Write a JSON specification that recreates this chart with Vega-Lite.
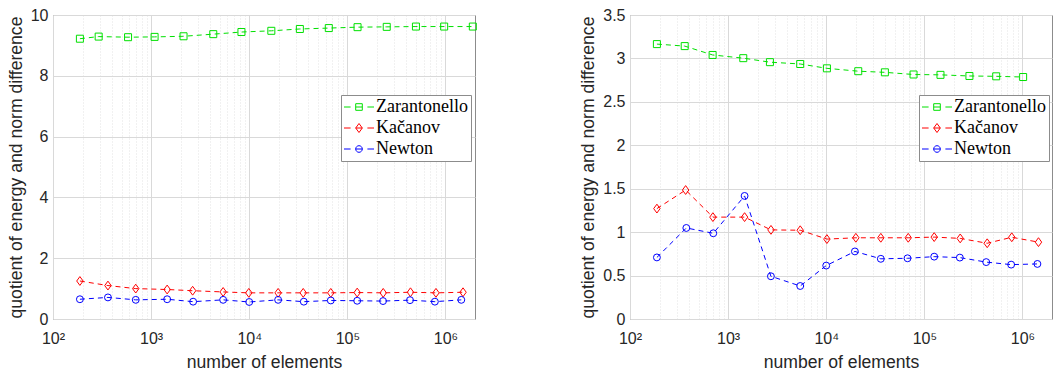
{
  "$schema": "https://vega.github.io/schema/vega-lite/v6.json",
  "background": "white",
  "padding": {"left": 6, "top": 6, "right": 5, "bottom": 2},
  "spacing": 100,
  "config": {
    "view": {"stroke": "#8c8c8c", "strokeWidth": 1},
    "axis": {
      "labelFont": "Liberation Sans", "labelFontSize": 16, "labelColor": "#262626",
      "titleFont": "Liberation Sans", "titleFontSize": 17.6, "titleFontWeight": "normal", "titleColor": "#262626",
      "domain": false, "ticks": false, "gridColor": "#d9d9d9", "gridWidth": 1
    },
    "legend": {
      "labelFont": "Liberation Serif", "labelFontSize": 18, "labelColor": "#000000",
      "padding": 3, "rowPadding": 3, "strokeColor": "#8c8c8c", "fillColor": "white",
      "symbolSize": 36, "symbolStrokeWidth": 1, "symbolOffset": 6, "labelOffset": 8
    }
  },
  "resolve": {
    "scale": {"color": "independent", "stroke": "independent", "shape": "independent", "size": "independent"},
    "legend": {"color": "independent", "stroke": "independent", "shape": "independent", "size": "independent"}
  },
  "data": {"values": [
    {"panel": "L", "method": "Zarantonello", "n": 188, "q": 9.22},
    {"panel": "L", "method": "Zarantonello", "n": 292, "q": 9.29},
    {"panel": "L", "method": "Zarantonello", "n": 582, "q": 9.27},
    {"panel": "L", "method": "Zarantonello", "n": 1085, "q": 9.28},
    {"panel": "L", "method": "Zarantonello", "n": 2140, "q": 9.30},
    {"panel": "L", "method": "Zarantonello", "n": 4300, "q": 9.37},
    {"panel": "L", "method": "Zarantonello", "n": 8330, "q": 9.44},
    {"panel": "L", "method": "Zarantonello", "n": 16800, "q": 9.48},
    {"panel": "L", "method": "Zarantonello", "n": 32800, "q": 9.54},
    {"panel": "L", "method": "Zarantonello", "n": 64700, "q": 9.57},
    {"panel": "L", "method": "Zarantonello", "n": 127000, "q": 9.60},
    {"panel": "L", "method": "Zarantonello", "n": 252000, "q": 9.61},
    {"panel": "L", "method": "Zarantonello", "n": 500000, "q": 9.62},
    {"panel": "L", "method": "Zarantonello", "n": 970000, "q": 9.62},
    {"panel": "L", "method": "Zarantonello", "n": 1900000, "q": 9.62},
    {"panel": "L", "method": "Kačanov", "n": 188, "q": 1.25},
    {"panel": "L", "method": "Kačanov", "n": 363, "q": 1.10},
    {"panel": "L", "method": "Kačanov", "n": 697, "q": 1.00},
    {"panel": "L", "method": "Kačanov", "n": 1457, "q": 0.97},
    {"panel": "L", "method": "Kačanov", "n": 2650, "q": 0.93},
    {"panel": "L", "method": "Kačanov", "n": 5420, "q": 0.89},
    {"panel": "L", "method": "Kačanov", "n": 9900, "q": 0.86},
    {"panel": "L", "method": "Kačanov", "n": 19700, "q": 0.86},
    {"panel": "L", "method": "Kačanov", "n": 35500, "q": 0.86},
    {"panel": "L", "method": "Kačanov", "n": 67800, "q": 0.86},
    {"panel": "L", "method": "Kačanov", "n": 126000, "q": 0.87},
    {"panel": "L", "method": "Kačanov", "n": 232000, "q": 0.86},
    {"panel": "L", "method": "Kačanov", "n": 440000, "q": 0.88},
    {"panel": "L", "method": "Kačanov", "n": 800000, "q": 0.86},
    {"panel": "L", "method": "Kačanov", "n": 1510000, "q": 0.88},
    {"panel": "L", "method": "Newton", "n": 188, "q": 0.65},
    {"panel": "L", "method": "Newton", "n": 363, "q": 0.71},
    {"panel": "L", "method": "Newton", "n": 697, "q": 0.63},
    {"panel": "L", "method": "Newton", "n": 1457, "q": 0.65},
    {"panel": "L", "method": "Newton", "n": 2680, "q": 0.57},
    {"panel": "L", "method": "Newton", "n": 5420, "q": 0.63},
    {"panel": "L", "method": "Newton", "n": 10000, "q": 0.56},
    {"panel": "L", "method": "Newton", "n": 19700, "q": 0.63},
    {"panel": "L", "method": "Newton", "n": 36000, "q": 0.57},
    {"panel": "L", "method": "Newton", "n": 67800, "q": 0.61},
    {"panel": "L", "method": "Newton", "n": 126000, "q": 0.60},
    {"panel": "L", "method": "Newton", "n": 231000, "q": 0.59},
    {"panel": "L", "method": "Newton", "n": 435000, "q": 0.62},
    {"panel": "L", "method": "Newton", "n": 780000, "q": 0.57},
    {"panel": "L", "method": "Newton", "n": 1450000, "q": 0.63},
    {"panel": "R", "method": "Zarantonello", "n": 188, "q": 3.165},
    {"panel": "R", "method": "Zarantonello", "n": 361, "q": 3.142},
    {"panel": "R", "method": "Zarantonello", "n": 695, "q": 3.040},
    {"panel": "R", "method": "Zarantonello", "n": 1427, "q": 3.003},
    {"panel": "R", "method": "Zarantonello", "n": 2667, "q": 2.957},
    {"panel": "R", "method": "Zarantonello", "n": 5430, "q": 2.936},
    {"panel": "R", "method": "Zarantonello", "n": 10160, "q": 2.886},
    {"panel": "R", "method": "Zarantonello", "n": 21200, "q": 2.853},
    {"panel": "R", "method": "Zarantonello", "n": 39600, "q": 2.840},
    {"panel": "R", "method": "Zarantonello", "n": 77600, "q": 2.815},
    {"panel": "R", "method": "Zarantonello", "n": 146000, "q": 2.811},
    {"panel": "R", "method": "Zarantonello", "n": 288000, "q": 2.798},
    {"panel": "R", "method": "Zarantonello", "n": 540000, "q": 2.794},
    {"panel": "R", "method": "Zarantonello", "n": 1016000, "q": 2.786},
    {"panel": "R", "method": "Kačanov", "n": 188, "q": 1.271},
    {"panel": "R", "method": "Kačanov", "n": 369, "q": 1.485},
    {"panel": "R", "method": "Kačanov", "n": 700, "q": 1.173},
    {"panel": "R", "method": "Kačanov", "n": 1472, "q": 1.173},
    {"panel": "R", "method": "Kačanov", "n": 2734, "q": 1.026},
    {"panel": "R", "method": "Kačanov", "n": 5430, "q": 1.022},
    {"panel": "R", "method": "Kačanov", "n": 10160, "q": 0.920},
    {"panel": "R", "method": "Kačanov", "n": 20040, "q": 0.935},
    {"panel": "R", "method": "Kačanov", "n": 36000, "q": 0.935},
    {"panel": "R", "method": "Kačanov", "n": 68500, "q": 0.935},
    {"panel": "R", "method": "Kačanov", "n": 126000, "q": 0.943},
    {"panel": "R", "method": "Kačanov", "n": 232000, "q": 0.928},
    {"panel": "R", "method": "Kačanov", "n": 437000, "q": 0.872},
    {"panel": "R", "method": "Kačanov", "n": 778000, "q": 0.941},
    {"panel": "R", "method": "Kačanov", "n": 1456000, "q": 0.885},
    {"panel": "R", "method": "Newton", "n": 188, "q": 0.709},
    {"panel": "R", "method": "Newton", "n": 375, "q": 1.048},
    {"panel": "R", "method": "Newton", "n": 706, "q": 0.987},
    {"panel": "R", "method": "Newton", "n": 1472, "q": 1.417},
    {"panel": "R", "method": "Newton", "n": 2730, "q": 0.492},
    {"panel": "R", "method": "Newton", "n": 5430, "q": 0.380},
    {"panel": "R", "method": "Newton", "n": 10000, "q": 0.615},
    {"panel": "R", "method": "Newton", "n": 19600, "q": 0.778},
    {"panel": "R", "method": "Newton", "n": 36000, "q": 0.693},
    {"panel": "R", "method": "Newton", "n": 67400, "q": 0.699},
    {"panel": "R", "method": "Newton", "n": 126000, "q": 0.718},
    {"panel": "R", "method": "Newton", "n": 230000, "q": 0.707},
    {"panel": "R", "method": "Newton", "n": 427000, "q": 0.655},
    {"panel": "R", "method": "Newton", "n": 767000, "q": 0.626},
    {"panel": "R", "method": "Newton", "n": 1420000, "q": 0.634}
  ]},
  "hconcat": [
    {
      "width": 422, "height": 304,
      "transform": [{"filter": "datum.panel === 'L'"}],
      "encoding": {
        "x": {"field": "n", "type": "quantitative", "title": "number of elements",
          "scale": {"type": "log", "domain": [100, 2000000], "nice": false},
          "axis": {
            "values": [100,200,300,400,500,600,700,800,900,1000,2000,3000,4000,5000,6000,7000,8000,9000,10000,20000,30000,40000,50000,60000,70000,80000,90000,100000,200000,300000,400000,500000,600000,700000,800000,900000,1000000],
            "labelExpr": "datum.value == 100 ? '10²' : datum.value == 1000 ? '10³' : datum.value == 10000 ? '10⁴' : datum.value == 100000 ? '10⁵' : datum.value == 1000000 ? '10⁶' : ''",
            "labelFlush": false, "labelOverlap": false, "labelPadding": 11, "titlePadding": 7,
            "gridDash": {"condition": {"test": "indexof([100,1000,10000,100000,1000000], datum.value) >= 0", "value": []}, "value": [1, 2]},
            "gridColor": {"condition": {"test": "indexof([100,1000,10000,100000,1000000], datum.value) >= 0", "value": "#d9d9d9"}, "value": "#e3e3e3"}
          }
        },
        "y": {"field": "q", "type": "quantitative", "title": "quotient of energy and norm difference",
          "scale": {"domain": [0, 10], "nice": false},
          "axis": {"values": [0, 2, 4, 6, 8, 10], "format": ".2~r", "labelPadding": 5, "titlePadding": 5}
        }
      },
      "layer": [
        {
          "mark": {"type": "line", "strokeDash": [5, 4], "strokeWidth": 1},
          "encoding": {
            "stroke": {"field": "method", "type": "nominal", "legend": null,
              "scale": {"range": ["#ff0000", "#0000ff", "#00e000"]}}
          }
        },
        {
          "mark": {"type": "point", "filled": false, "strokeWidth": 1, "opacity": 1},
          "encoding": {
            "color": {"field": "method", "type": "nominal",
              "scale": {"domain": ["Zarantonello", "Kačanov", "Newton"], "range": ["#00e000", "#ff0000", "#0000ff"]},
              "legend": {"title": null, "orient": "none", "legendX": 288, "legendY": 80,
                "symbolType": {"expr": "datum.value === 'Zarantonello' ? 'M-5,0L-2.8,0M2.8,0L5,0M-1.1,-1.1L1.1,-1.1L1.1,1.1L-1.1,1.1ZM-1.1,0L1.1,0' : datum.value === 'Newton' ? 'M-5,0L-2.8,0M2.8,0L5,0M-1.1,0A1.1,1.1,0,1,1,1.1,0A1.1,1.1,0,1,1,-1.1,0ZM-1.1,0L1.1,0' : 'M-5,0L-2.8,0M2.8,0L5,0M0,-1.5L1.1,0L0,1.5L-1.1,0ZM-1.1,0L1.1,0'"}
              }
            },
            "shape": {"field": "method", "type": "nominal", "legend": null,
              "scale": {"range": ["M0,-1.3L0.95,0L0,1.3L-0.95,0Z", "circle", "square"]}},
            "size": {"field": "method", "type": "nominal", "legend": null,
              "scale": {"range": [46, 49, 42]}}
          }
        }
      ]
    },
    {
      "width": 422, "height": 304,
      "transform": [{"filter": "datum.panel === 'R'"}],
      "encoding": {
        "x": {"field": "n", "type": "quantitative", "title": "number of elements",
          "scale": {"type": "log", "domain": [100, 2000000], "nice": false},
          "axis": {
            "values": [100,200,300,400,500,600,700,800,900,1000,2000,3000,4000,5000,6000,7000,8000,9000,10000,20000,30000,40000,50000,60000,70000,80000,90000,100000,200000,300000,400000,500000,600000,700000,800000,900000,1000000],
            "labelExpr": "datum.value == 100 ? '10²' : datum.value == 1000 ? '10³' : datum.value == 10000 ? '10⁴' : datum.value == 100000 ? '10⁵' : datum.value == 1000000 ? '10⁶' : ''",
            "labelFlush": false, "labelOverlap": false, "labelPadding": 11, "titlePadding": 7,
            "gridDash": {"condition": {"test": "indexof([100,1000,10000,100000,1000000], datum.value) >= 0", "value": []}, "value": [1, 2]},
            "gridColor": {"condition": {"test": "indexof([100,1000,10000,100000,1000000], datum.value) >= 0", "value": "#d9d9d9"}, "value": "#e3e3e3"}
          }
        },
        "y": {"field": "q", "type": "quantitative", "title": "quotient of energy and norm difference",
          "scale": {"domain": [0, 3.5], "nice": false},
          "axis": {"values": [0, 0.5, 1, 1.5, 2, 2.5, 3, 3.5], "format": ".2~r", "labelPadding": 5, "titlePadding": 5}
        }
      },
      "layer": [
        {
          "mark": {"type": "line", "strokeDash": [5, 4], "strokeWidth": 1},
          "encoding": {
            "stroke": {"field": "method", "type": "nominal", "legend": null,
              "scale": {"range": ["#ff0000", "#0000ff", "#00e000"]}}
          }
        },
        {
          "mark": {"type": "point", "filled": false, "strokeWidth": 1, "opacity": 1},
          "encoding": {
            "color": {"field": "method", "type": "nominal",
              "scale": {"domain": ["Zarantonello", "Kačanov", "Newton"], "range": ["#00e000", "#ff0000", "#0000ff"]},
              "legend": {"title": null, "orient": "none", "legendX": 289, "legendY": 80,
                "symbolType": {"expr": "datum.value === 'Zarantonello' ? 'M-5,0L-2.8,0M2.8,0L5,0M-1.1,-1.1L1.1,-1.1L1.1,1.1L-1.1,1.1ZM-1.1,0L1.1,0' : datum.value === 'Newton' ? 'M-5,0L-2.8,0M2.8,0L5,0M-1.1,0A1.1,1.1,0,1,1,1.1,0A1.1,1.1,0,1,1,-1.1,0ZM-1.1,0L1.1,0' : 'M-5,0L-2.8,0M2.8,0L5,0M0,-1.5L1.1,0L0,1.5L-1.1,0ZM-1.1,0L1.1,0'"}
              }
            },
            "shape": {"field": "method", "type": "nominal", "legend": null,
              "scale": {"range": ["M0,-1.3L0.95,0L0,1.3L-0.95,0Z", "circle", "square"]}},
            "size": {"field": "method", "type": "nominal", "legend": null,
              "scale": {"range": [46, 49, 42]}}
          }
        }
      ]
    }
  ]
}
